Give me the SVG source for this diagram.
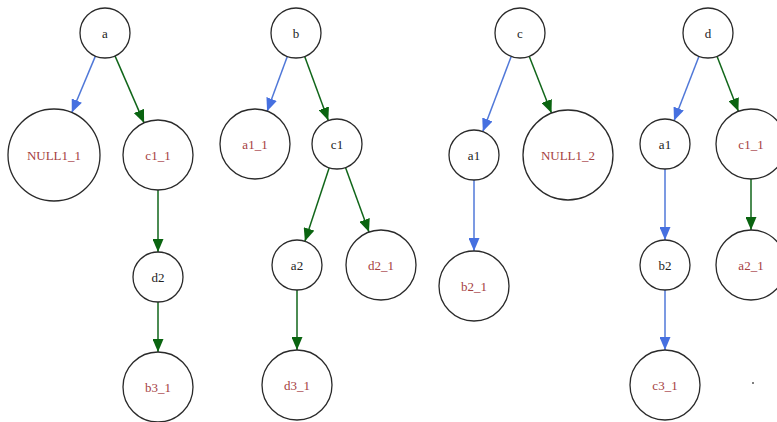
<svg xmlns="http://www.w3.org/2000/svg" width="777" height="422" viewBox="0 0 777 422">
<defs>
<style>
.n circle{fill:#fff;stroke:#2a2a2a;stroke-width:1.3}
.n text{font-family:"Liberation Serif","DejaVu Serif",serif;font-size:13px;text-anchor:middle;dominant-baseline:central}
.k{fill:#222}
.r{fill:#a5403f}
.eb{stroke:#5078d8;stroke-width:1.5;fill:none;marker-end:url(#ab)}
.eg{stroke:#11661a;stroke-width:1.5;fill:none;marker-end:url(#ag)}
</style>
<marker id="ab" markerUnits="userSpaceOnUse" markerWidth="13" markerHeight="11" refX="13" refY="5.5" orient="auto"><path d="M0,0 L13,5.5 L0,11 z" fill="#4670e0"/></marker>
<marker id="ag" markerUnits="userSpaceOnUse" markerWidth="13" markerHeight="11" refX="13" refY="5.5" orient="auto"><path d="M0,0 L13,5.5 L0,11 z" fill="#0a6410"/></marker>
</defs>
<rect width="777" height="422" fill="#fff"/>
<g id="edges">
<line class="eb" x1="95.4" y1="56.1" x2="71.8" y2="112.5"/>
<line class="eg" x1="115" y1="55.9" x2="144.1" y2="122.9"/>
<line class="eg" x1="158" y1="190" x2="158" y2="252"/>
<line class="eg" x1="158" y1="302" x2="158" y2="352"/>
<line class="eb" x1="287.3" y1="56.5" x2="267.1" y2="111.2"/>
<line class="eg" x1="304.7" y1="56.5" x2="328.3" y2="120.5"/>
<line class="eg" x1="329.2" y1="167.8" x2="304.9" y2="241.3"/>
<line class="eg" x1="345.5" y1="167.5" x2="369" y2="232.1"/>
<line class="eg" x1="297" y1="290" x2="297" y2="350"/>
<line class="eb" x1="511.2" y1="56.4" x2="482.8" y2="131.6"/>
<line class="eg" x1="529.2" y1="56.3" x2="551.5" y2="113.1"/>
<line class="eb" x1="474" y1="180" x2="474" y2="251"/>
<line class="eb" x1="699" y1="56.3" x2="674" y2="120.7"/>
<line class="eg" x1="717" y1="56.3" x2="738.4" y2="111.3"/>
<line class="eb" x1="665" y1="169" x2="665" y2="240"/>
<line class="eb" x1="665" y1="290" x2="665" y2="350"/>
<line class="eg" x1="751" y1="179" x2="751" y2="230"/>
</g>
<g id="t1_a" class="n"><circle cx="105" cy="33" r="25"/><text class="k" x="105" y="33">a</text></g>
<g id="t1_NULL1_1" class="n"><circle cx="54" cy="155" r="46"/><text class="r" x="54" y="155">NULL1_1</text></g>
<g id="t1_c1_1" class="n"><circle cx="158" cy="155" r="35"/><text class="r" x="158" y="155">c1_1</text></g>
<g id="t1_d2" class="n"><circle cx="158" cy="277" r="25"/><text class="k" x="158" y="277">d2</text></g>
<g id="t1_b3_1" class="n"><circle cx="158" cy="387" r="35"/><text class="r" x="158" y="387">b3_1</text></g>
<g id="t2_b" class="n"><circle cx="296" cy="33" r="25"/><text class="k" x="296" y="33">b</text></g>
<g id="t2_a1_1" class="n"><circle cx="255" cy="144" r="35"/><text class="r" x="255" y="144">a1_1</text></g>
<g id="t2_c1" class="n"><circle cx="337" cy="144" r="25"/><text class="k" x="337" y="144">c1</text></g>
<g id="t2_a2" class="n"><circle cx="297" cy="265" r="25"/><text class="k" x="297" y="265">a2</text></g>
<g id="t2_d2_1" class="n"><circle cx="381" cy="265" r="35"/><text class="r" x="381" y="265">d2_1</text></g>
<g id="t2_d3_1" class="n"><circle cx="297" cy="385" r="35"/><text class="r" x="297" y="385">d3_1</text></g>
<g id="t3_c" class="n"><circle cx="520" cy="33" r="25"/><text class="k" x="520" y="33">c</text></g>
<g id="t3_a1" class="n"><circle cx="474" cy="155" r="25"/><text class="k" x="474" y="155">a1</text></g>
<g id="t3_NULL1_2" class="n"><circle cx="568" cy="155" r="45"/><text class="r" x="568" y="155">NULL1_2</text></g>
<g id="t3_b2_1" class="n"><circle cx="474" cy="286" r="35"/><text class="r" x="474" y="286">b2_1</text></g>
<g id="t4_d" class="n"><circle cx="708" cy="33" r="25"/><text class="k" x="708" y="33">d</text></g>
<g id="t4_a1" class="n"><circle cx="665" cy="144" r="25"/><text class="k" x="665" y="144">a1</text></g>
<g id="t4_c1_1" class="n"><circle cx="751" cy="144" r="35"/><text class="r" x="751" y="144">c1_1</text></g>
<g id="t4_b2" class="n"><circle cx="665" cy="265" r="25"/><text class="k" x="665" y="265">b2</text></g>
<g id="t4_a2_1" class="n"><circle cx="751" cy="265" r="35"/><text class="r" x="751" y="265">a2_1</text></g>
<g id="t4_c3_1" class="n"><circle cx="665" cy="385" r="35"/><text class="r" x="665" y="385">c3_1</text></g>
<circle cx="753" cy="383" r="1" fill="#555"/>
</svg>
